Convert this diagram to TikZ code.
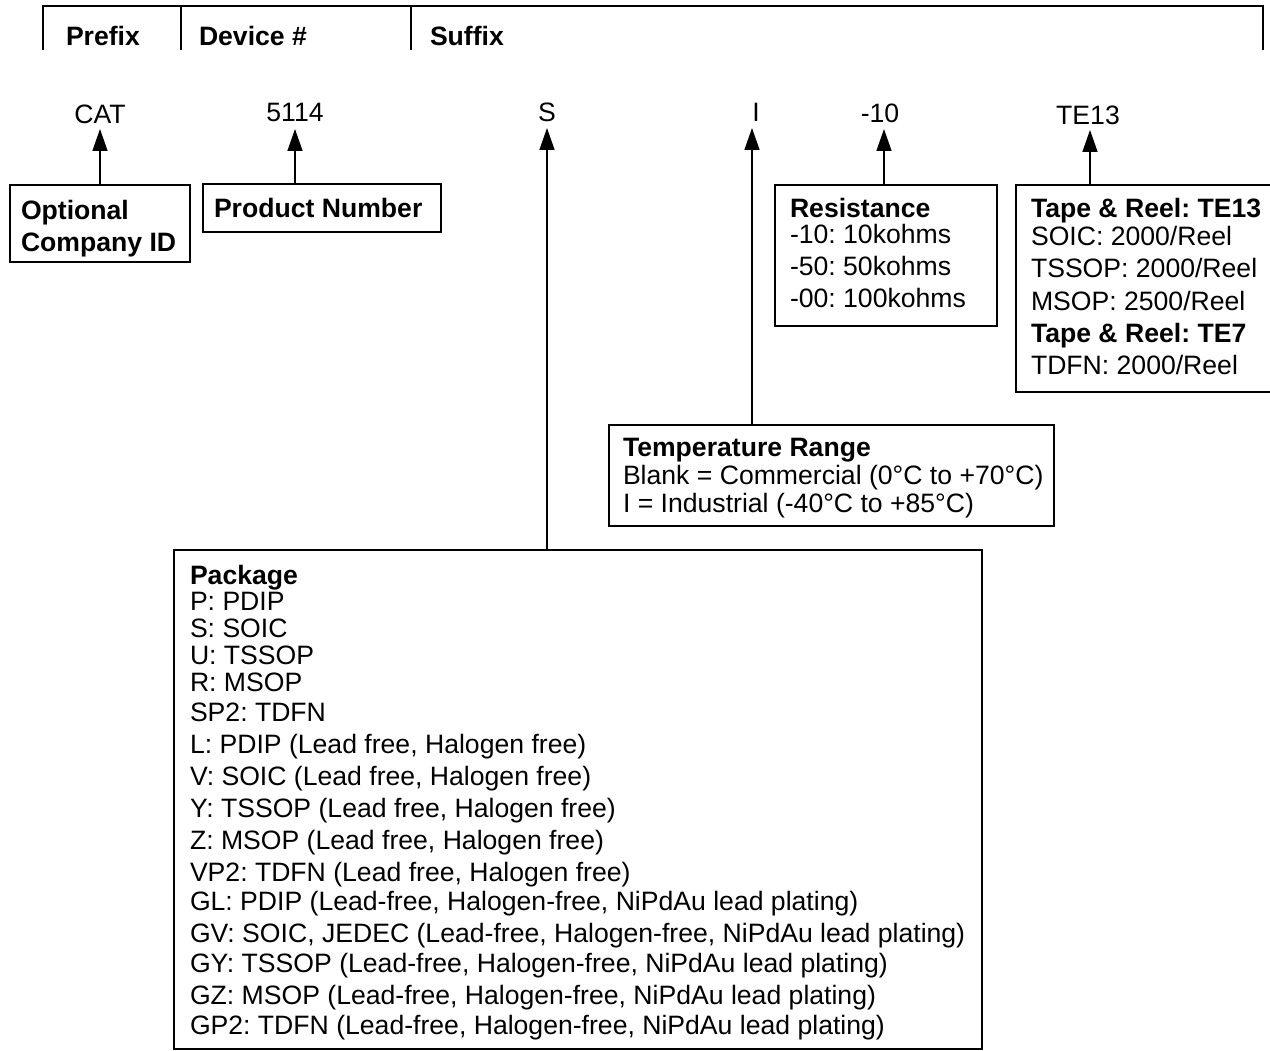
\documentclass[tikz,border=0pt]{standalone}
\usepackage{fontspec}
\setmainfont{Liberation Sans}
\usetikzlibrary{arrows.meta}
\frenchspacing
\begin{document}
\begin{tikzpicture}[x=1pt,y=-1pt,
  every node/.style={inner sep=0pt,outer sep=0pt,font=\fontsize{26.6}{30}\selectfont\frenchspacing},
  box/.style={draw,line width=2.4pt,anchor=north west},
  txt/.style={anchor=base west},
  hdr/.style={anchor=base west,font=\fontsize{26.6}{30}\selectfont\bfseries\frenchspacing},
  lbl/.style={anchor=base},
  pointer/.style={line width=1.5pt,-{Triangle[length=22pt,width=15pt]}},
  rule/.style={line width=1.5pt}]
\useasboundingbox (0,0) rectangle (1270,1051);
% header
\coordinate (h0) at (43,50);
\coordinate (h1) at (43,6);
\coordinate (h2) at (1263,6);
\coordinate (h3) at (1263,50);
\draw[rule] (h0) -- (h1) -- (h2) -- (h3);
\coordinate (d1a) at (181,6); \coordinate (d1b) at (181,50);
\coordinate (d2a) at (411,6); \coordinate (d2b) at (411,50);
\draw[rule] (d1a) -- (d1b);
\draw[rule] (d2a) -- (d2b);
\node[hdr] (prefix) at (66,46) {Prefix};
\node[hdr] (device) at (199,46) {Device \#};
\node[hdr] (suffix) at (430,46) {Suffix};
% code labels
\node[lbl] (cat) at (100,124) {CAT};
\node[lbl] (num) at (295,122) {5114};
\node[lbl] (s) at (547,122) {S};
\node[lbl] (i) at (756,122) {I};
\node[lbl] (res) at (880,123) {-10};
\node[lbl] (te) at (1088,125) {TE13};
\coordinate (catT) at (100,129);
\coordinate (numT) at (295,129);
\coordinate (sT) at (547,128);
\coordinate (iT) at (752,128);
\coordinate (resT) at (884,129);
\coordinate (teT) at (1090,130);
% boxes
\node[box,minimum width=180pt,minimum height=77pt] (cid) at (10,185) {};
\node[box,minimum width=238pt,minimum height=48pt] (pn) at (203,184) {};
\node[box,minimum width=222pt,minimum height=141pt] (rbox) at (775,185) {};
\node[box,minimum width=256pt,minimum height=207pt] (tbox) at (1016,185) {};
\node[box,minimum width=445pt,minimum height=101pt] (tmp) at (609,425) {};
\node[box,minimum width=808pt,minimum height=499pt] (pkg) at (174,550) {};
% connectors
\draw[pointer] (cid.north -| catT) -- (catT);
\draw[pointer] (pn.north -| numT) -- (numT);
\draw[pointer] (pkg.north -| sT) -- (sT);
\draw[pointer] (tmp.north -| iT) -- (iT);
\draw[pointer] (rbox.north -| resT) -- (resT);
\draw[pointer] (tbox.north -| teT) -- (teT);
% box texts
\node[hdr] (cid1) at (21,220) {Optional};
\node[hdr] (cid2) at (21,252) {Company ID};
\node[hdr] (pn1) at (214,218) {Product Number};
\node[hdr] (r0) at (790,218) {Resistance};
\node[txt] (r1) at (790,244) {-10: 10kohms};
\node[txt] (r2) at (790,276) {-50: 50kohms};
\node[txt] (r3) at (790,308) {-00: 100kohms};
\node[hdr] (t0) at (1031,218) {Tape \& Reel: TE13};
\node[txt] (t1) at (1031,246) {SOIC: 2000/Reel};
\node[txt] (t2) at (1031,278) {TSSOP: 2000/Reel};
\node[txt] (t3) at (1031,310) {MSOP: 2500/Reel};
\node[hdr] (t4) at (1031,342) {Tape \& Reel: TE7};
\node[txt] (t5) at (1031,374) {TDFN: 2000/Reel};
\node[hdr] (m0) at (623,456) {Temperature Range};
\node[txt] (m1) at (623,484) {Blank = Commercial (0°C to +70°C)};
\node[txt] (m2) at (623,512) {I = Industrial (-40°C to +85°C)};
\node[hdr] (p0) at (190,584) {Package};
\node[txt] (p1) at (190,610) {P: PDIP};
\node[txt] (p2) at (190,637) {S: SOIC};
\node[txt] (p3) at (190,664) {U: TSSOP};
\node[txt] (p4) at (190,691) {R: MSOP};
\node[txt] (p5) at (190,721) {SP2: TDFN};
\node[txt] (p6) at (190,753) {L: PDIP (Lead free, Halogen free)};
\node[txt] (p7) at (190,785) {V: SOIC (Lead free, Halogen free)};
\node[txt] (p8) at (190,817) {Y: TSSOP (Lead free, Halogen free)};
\node[txt] (p9) at (190,849) {Z: MSOP (Lead free, Halogen free)};
\node[txt] (p10) at (190,881) {VP2: TDFN (Lead free, Halogen free)};
\node[txt] (p11) at (190,910) {GL: PDIP (Lead-free, Halogen-free, NiPdAu lead plating)};
\node[txt] (p12) at (190,942) {GV: SOIC, JEDEC (Lead-free, Halogen-free, NiPdAu lead plating)};
\node[txt] (p13) at (190,972) {GY: TSSOP (Lead-free, Halogen-free, NiPdAu lead plating)};
\node[txt] (p14) at (190,1004) {GZ: MSOP (Lead-free, Halogen-free, NiPdAu lead plating)};
\node[txt] (p15) at (190,1034) {GP2: TDFN (Lead-free, Halogen-free, NiPdAu lead plating)};
\end{tikzpicture}
\end{document}
